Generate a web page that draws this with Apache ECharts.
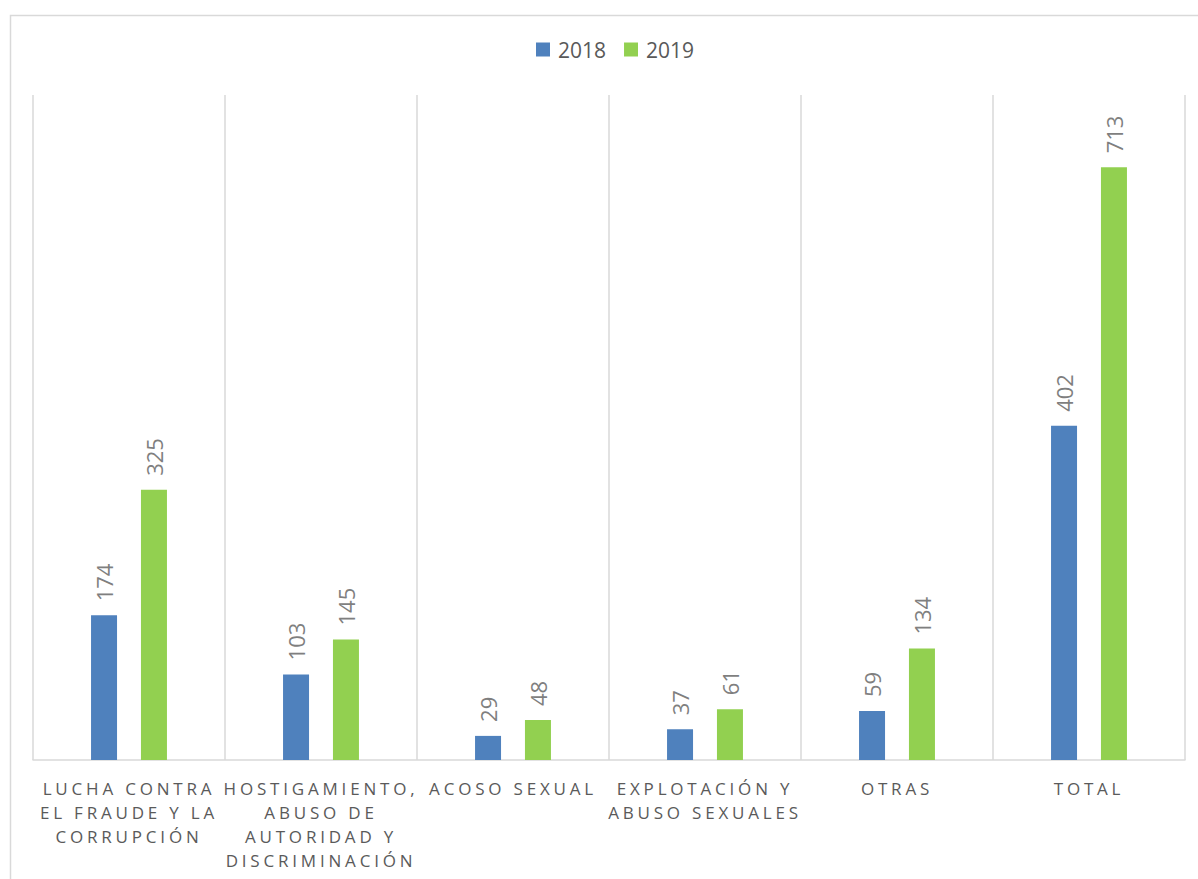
<!DOCTYPE html>
<html>
<head>
<meta charset="utf-8">
<script src="https://cdn.jsdelivr.net/npm/echarts@6/dist/echarts.min.js"></script>
<style>
  html, body { margin: 0; padding: 0; background: #ffffff; }
  #main { width: 1198px; height: 879px; }
  text[fill="#5a5a5a"] { letter-spacing: 3.8px; }
</style>
</head>
<body>
<div id="main"></div>
<script>
const categories = [
  'LUCHA CONTRA\nEL FRAUDE Y LA\nCORRUPCIÓN',
  'HOSTIGAMIENTO,\nABUSO DE\nAUTORIDAD Y\nDISCRIMINACIÓN',
  'ACOSO SEXUAL',
  'EXPLOTACIÓN Y\nABUSO SEXUALES',
  'OTRAS',
  'TOTAL'
];
const seriesNames = ['2018', '2019'];
const values2018 = [174, 103, 29, 37, 59, 402];
const values2019 = [325, 145, 48, 61, 134, 713];

const chart = echarts.init(document.getElementById('main'), null, { renderer: 'svg' });

const valueLabel = {
  show: true,
  position: 'top',
  rotate: 90,
  align: 'left',
  verticalAlign: 'middle',
  distance: 14,
  color: '#7f7f7f',
  fontSize: 22,
  fontFamily: 'Open Sans'
};

chart.setOption({
  animation: false,
  backgroundColor: '#ffffff',
  graphic: [{
    type: 'rect',
    left: 8,
    top: 13,
    shape: { width: 1220, height: 900 },
    style: { fill: 'none', stroke: '#d9d9d9', lineWidth: 1.5 },
    silent: true
  }],
  legend: {
    top: 34,
    left: 531,
    itemWidth: 14,
    itemHeight: 14,
    itemGap: 18,
    icon: 'rect',
    textStyle: { color: '#595959', fontSize: 21, fontFamily: 'Open Sans', padding: [0, 0, 0, 3] },
    data: seriesNames
  },
  grid: { left: 33, right: 13, top: 95, bottom: 119, containLabel: false },
  xAxis: {
    type: 'category',
    data: categories,
    axisTick: { show: false },
    axisLine: { lineStyle: { color: '#d9d9d9', width: 1.5 } },
    splitLine: { show: true, lineStyle: { color: '#d9d9d9', width: 1.5 } },
    axisLabel: {
      interval: 0,
      margin: 16,
      color: '#5a5a5a',
      fontSize: 17,
      lineHeight: 24,
      fontFamily: 'Open Sans',
      align: 'center'
    }
  },
  yAxis: {
    type: 'value',
    min: 0,
    max: 800,
    show: false,
    splitLine: { show: false }
  },
  series: [
    {
      name: seriesNames[0],
      type: 'bar',
      data: values2018,
      barWidth: 26,
      barGap: '92%',
      itemStyle: { color: '#4f81bd' },
      label: valueLabel
    },
    {
      name: seriesNames[1],
      type: 'bar',
      data: values2019,
      barWidth: 26,
      barGap: '92%',
      itemStyle: { color: '#92d050' },
      label: valueLabel
    }
  ]
});
</script>
</body>
</html>
